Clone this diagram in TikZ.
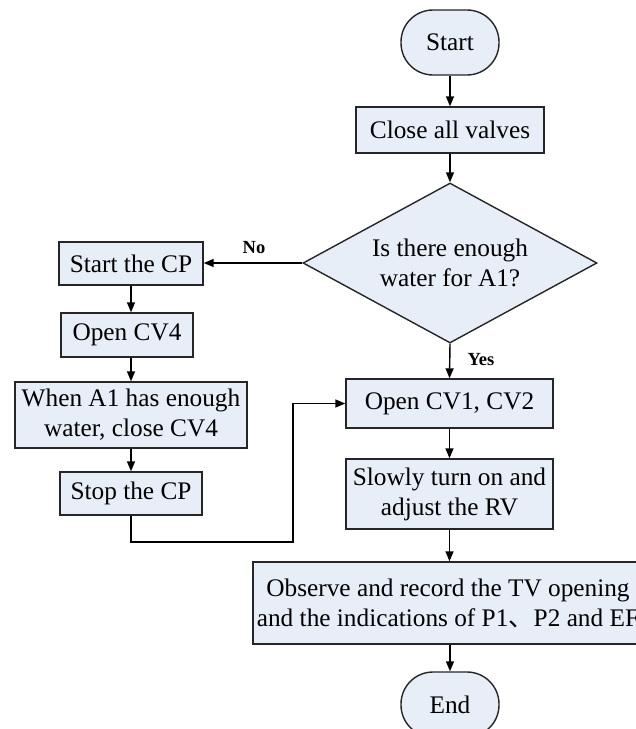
\documentclass[tikz,border=0pt]{standalone}
\usepackage{fontspec}
\setmainfont{Liberation Serif}
\newfontfamily\cjk{Noto Sans CJK SC}
\usetikzlibrary{arrows.meta,shapes.geometric}
\definecolor{boxfill}{RGB}{232,238,248}
\begin{document}
\begin{tikzpicture}[x=1pt,y=-1pt,
  every node/.style={font=\fontsize{25.3}{30}\selectfont},
  box/.style={draw=black!85, line width=1.4pt, fill=boxfill, inner sep=0pt, align=center},
  term/.style={box, rounded corners=32pt},
  decbox/.style={box, diamond, aspect=1.84},
  lbl/.style={font=\fontsize{18.5}{20}\selectfont\bfseries},
  arr/.style={line width=1.4pt, draw=black, -{Triangle[length=10pt,width=8pt]}}]
\useasboundingbox (0,0) rectangle (636,729);
\clip (0,0) rectangle (636,729);
\node[term, minimum width=98pt, minimum height=65pt] (start) at (450,42.5) {Start};
\node[box, minimum width=188pt, minimum height=46pt] (close) at (450,130) {Close all valves};
\node[decbox, minimum width=294pt, minimum height=160pt] (dec) at (450,263) {Is there enough\\water for A1?};
\node[box, minimum width=144pt, minimum height=43pt] (cp) at (131,263.5) {Start the CP};
\node[box, minimum width=132pt, minimum height=44pt] (cv4) at (127,335) {Open CV4};
\node[box, minimum width=232pt, minimum height=66pt] (when) at (131,415) {When A1 has enough\\water, close CV4};
\node[box, minimum width=142pt, minimum height=43pt] (stop) at (131,493.5) {Stop the CP};
\node[box, minimum width=207pt, minimum height=49pt] (cv12) at (449.5,403.5) {Open CV1, CV2};
\node[box, minimum width=207pt, minimum height=70pt] (slow) at (449.5,494) {Slowly turn on and\\adjust the RV};
\node[box, minimum width=390pt, minimum height=82pt] (obs) at (448,603) {Observe and record the TV opening\\and the indications of P1{\cjk 、}P2 and EF};
\node[term, minimum width=98pt, minimum height=65pt] (end) at (450,704.5) {End};
\node[lbl] (no) at (254,248) {No};
\node[lbl] (yes) at (481,360) {Yes};
\coordinate (c1) at (293,542);
\draw[arr] (start) -- (close);
\draw[arr] (close) -- (dec);
\draw[arr] (dec.west) -- (dec.west -| cp.east);
\draw[arr] (dec.south) -- (cv12.north);
\draw[arr] (cp.south) -- (cp.south |- cv4.north);
\draw[arr] (cp.south |- cv4.south) -- (cp.south |- when.north);
\draw[arr] (when.south) -- (stop.north);
\draw[arr] (stop.south) |- (c1) |- (cv12.west);
\draw[arr] (cv12) -- (slow);
\draw[arr] (slow) -- (obs.north -| slow.south);
\draw[arr] (obs.south -| end.north) -- (end);
\end{tikzpicture}
\end{document}
